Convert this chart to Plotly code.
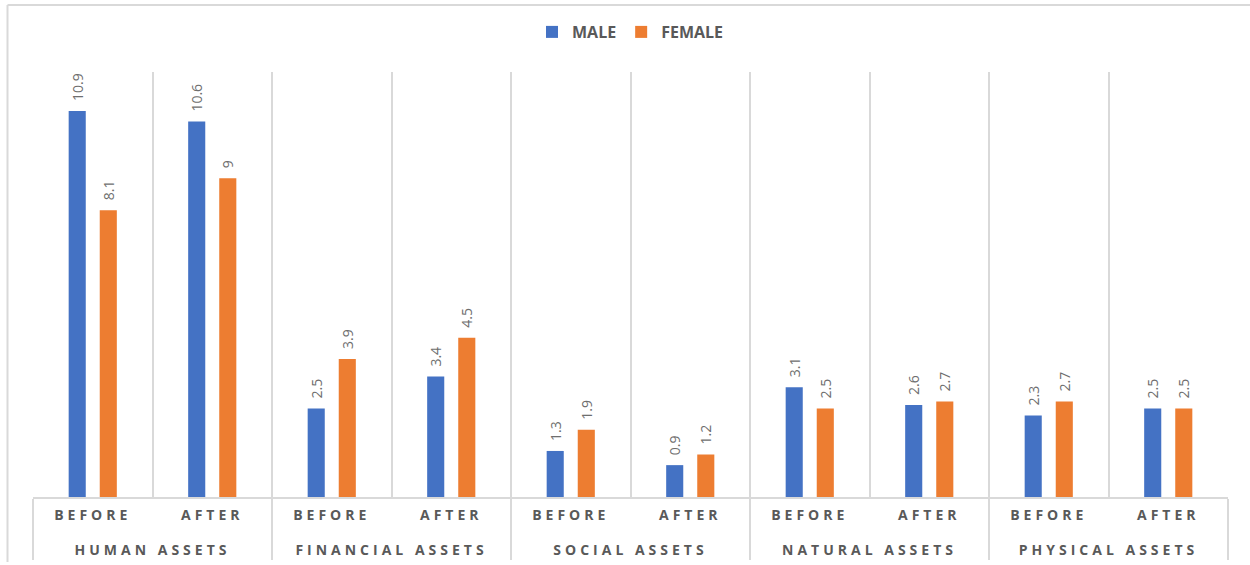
import plotly.graph_objects as go

# Asset groups and the before/after periods within each group
groups = ["HUMAN ASSETS", "FINANCIAL ASSETS", "SOCIAL ASSETS", "NATURAL ASSETS", "PHYSICAL ASSETS"]
periods = ["BEFORE", "AFTER"]

male = [10.9, 10.6, 2.5, 3.4, 1.3, 0.9, 3.1, 2.6, 2.3, 2.5]
female = [8.1, 9, 3.9, 4.5, 1.9, 1.2, 2.5, 2.7, 2.7, 2.5]

# group labels start with a blank line so they sit lower than the period labels
x_groups = ["<br>" + g for g in groups for _ in periods]
x_periods = [p for _ in groups for p in periods]

GRAY = "#595959"
LABEL_GRAY = "#6e6e6e"
LINE = "#D9D9D9"
FONT = "Open Sans"

W, H = 1250, 565
ML, MR, MT, MB = 33, 22, 72, 68
PW, PH = W - ML - MR, H - MT - MB


def px_x(v):
    return (v - ML) / PW


def px_y(v):
    return (H - MB - v) / PH


fig = go.Figure()
for name, vals, color in [("MALE", male, "#4472C4"), ("FEMALE", female, "#ED7D31")]:
    fig.add_trace(go.Bar(
        name=name,
        x=[x_groups, x_periods],
        y=vals,
        marker=dict(color=color, line=dict(width=0)),
        text=[f"{v:g}" for v in vals],
        texttemplate="\u2002%{text}",
        textposition="outside",
        textangle=-90,
        constraintext="none",
        textfont=dict(family=FONT, size=14, color=LABEL_GRAY),
        cliponaxis=False,
    ))

fig.update_layout(
    width=W,
    height=H,
    margin=dict(l=ML, r=MR, t=MT, b=MB, autoexpand=False),
    paper_bgcolor="white",
    plot_bgcolor="white",
    barmode="group",
    bargap=0.48,
    bargroupgap=0.45,
    font=dict(family=FONT, color=GRAY),
    legend=dict(
        orientation="h",
        x=0.5,
        xanchor="center",
        y=px_y(15),
        yanchor="top",
        font=dict(family=FONT, size=16, color=GRAY, weight="bold"),
        itemwidth=30,
        traceorder="normal",
    ),
    xaxis=dict(
        type="multicategory",
        automargin=False,
        showgrid=True,
        gridcolor=LINE,
        gridwidth=2,
        tickson="boundaries",
        ticklen=0,
        ticklabelstandoff=4,
        showline=True,
        linecolor=LINE,
        linewidth=2,
        showdividers=True,
        dividercolor=LINE,
        dividerwidth=2,
        tickfont=dict(family=FONT, size=14, color=GRAY, weight="bold"),
    ),
    yaxis=dict(
        range=[0, 12],
        automargin=False,
        showgrid=False,
        showticklabels=False,
        zeroline=False,
        showline=False,
    ),
    shapes=[
        dict(type="line", xref="paper", yref="paper",
             x0=px_x(7.5), x1=px_x(7.5), y0=px_y(5), y1=px_y(562),
             line=dict(color=LINE, width=2)),
        dict(type="line", xref="paper", yref="paper",
             x0=px_x(7.5), x1=px_x(1250), y0=px_y(5), y1=px_y(5),
             line=dict(color=LINE, width=2)),
    ],
)

# wide letter spacing on the category labels
spacing_js = (
    "var s=document.createElement('style');"
    "s.textContent='.xaxislayer-above text{letter-spacing:4px}';"
    "document.head.appendChild(s);"
)

fig.write_html("out.html", post_script=spacing_js)
